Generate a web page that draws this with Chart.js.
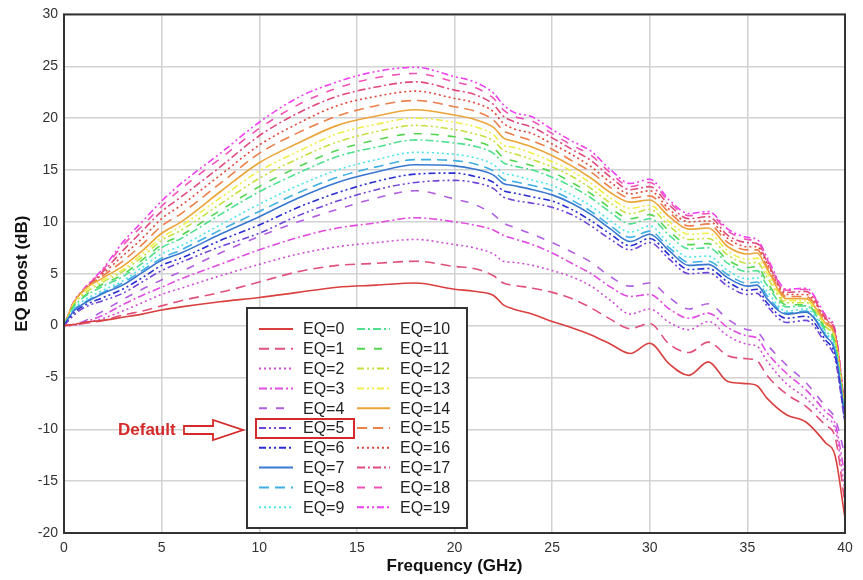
<!DOCTYPE html>
<html><head><meta charset="utf-8">
<script src="https://cdn.jsdelivr.net/npm/chart.js@4/dist/chart.umd.min.js"></script>
<style>html,body{margin:0;padding:0;background:#fff;}#wrap{width:863px;height:580px;}</style>
</head><body><div id="wrap"><canvas id="c" width="863" height="580"></canvas></div>
<script>
// Frequency (GHz) sample points
const freq = [0,0.5,1,2,3,4,5,6,8,10,12,14,16,18,20,21,22,22.5,23,24,25,26,27,28,29,30,31,32,33,34,35,35.5,36,37,38,39,39.5,40];
// EQ boost (dB) per setting
const eq0 = [0,0.1,0.3,0.5,0.8,1.1,1.5,1.8,2.3,2.7,3.2,3.7,3.9,4.1,3.5,3.3,2.9,2.0,1.6,1.1,0.4,-0.2,-0.9,-1.8,-2.7,-1.7,-3.7,-4.8,-3.5,-5.4,-5.6,-5.8,-7.0,-8.6,-9.3,-11.3,-12.6,-18.6];
const eq1 = [0,0.1,0.2,0.5,1.0,1.4,1.9,2.4,3.2,4.2,5.2,5.8,6.0,6.2,5.7,5.5,4.8,4.1,3.9,3.6,3.2,2.6,1.7,0.6,-0.3,0.2,-1.8,-2.6,-1.6,-2.9,-3.2,-3.4,-4.8,-6.6,-7.8,-9.6,-10.8,-17.2];
const eq2 = [0,0.05,0.2,0.7,1.4,2.2,3.0,3.6,4.8,5.9,6.9,7.6,8.0,8.3,7.8,7.5,6.9,6.2,6.1,5.8,5.3,4.7,3.8,2.4,1.1,1.6,0.3,-0.4,0.4,-1.0,-1.8,-2.0,-3.4,-5.6,-7.0,-8.9,-10.0,-16.0];
const eq3 = [0,0.05,0.3,1.0,2.0,2.9,3.7,4.5,5.9,7.3,8.5,9.4,9.9,10.4,10.0,9.7,9.2,8.7,8.4,7.8,7.0,6.0,5.0,3.7,2.8,3.0,1.6,0.7,1.2,-0.2,-1.0,-1.2,-2.6,-4.6,-6.2,-8.3,-9.5,-14.5];
const eq4 = [0,0.1,0.4,1.4,2.5,3.5,4.4,5.2,7.0,8.6,10.0,11.2,12.3,13.0,12.2,11.7,10.7,9.9,9.5,8.8,8.0,7.1,6.1,4.7,3.8,4.1,2.7,1.6,2.1,0.6,-0.4,-0.6,-1.8,-3.8,-5.5,-7.8,-9.0,-12.5];
const eq5 = [0,1.0,1.7,2.4,3.1,4.2,5.3,6.1,7.6,8.9,10.6,12.0,13.1,13.8,14.0,13.8,13.2,12.4,12.1,11.8,11.4,10.7,9.6,8.3,7.3,8.0,6.4,5.0,5.1,3.8,3.0,3.1,1.9,0.3,0.5,-1.7,-3.3,-9.5];
const eq6 = [0,1.2,1.9,2.7,3.5,4.6,5.8,6.5,8.2,9.7,11.4,12.8,13.9,14.6,14.7,14.4,13.8,13.0,12.8,12.4,12.0,11.2,10.1,8.8,7.7,8.4,6.8,5.4,5.5,4.2,3.4,3.5,2.2,0.7,0.9,-1.4,-3.0,-9.3];
const eq7 = [0,1.4,2.1,3.1,3.9,5.1,6.3,7.0,8.8,10.5,12.3,13.8,14.8,15.5,15.4,15.1,14.5,13.7,13.5,13.1,12.6,11.8,10.7,9.3,8.1,8.8,7.2,5.8,5.9,4.6,3.8,3.9,2.6,1.1,1.3,-1.0,-2.6,-9.0];
const eq8 = [0,1.5,2.2,3.2,4.1,5.3,6.5,7.3,9.2,11.0,12.8,14.3,15.3,16.0,15.9,15.6,14.9,14.1,13.9,13.5,13.0,12.1,11.0,9.6,8.5,9.1,7.5,6.1,6.2,4.9,4.1,4.2,2.9,1.2,1.4,-0.9,-2.5,-9.0];
const eq9 = [0,1.6,2.4,3.4,4.3,5.6,6.9,7.7,9.7,11.7,13.5,15.0,16.0,16.7,16.5,16.2,15.5,14.7,14.5,14.0,13.5,12.6,11.5,10.1,9.0,9.6,7.9,6.6,6.7,5.3,4.5,4.6,3.3,1.4,1.6,-0.7,-2.3,-8.9];
const eq10 = [0,1.8,2.7,3.8,4.7,6.0,7.5,8.4,10.7,12.9,14.7,16.3,17.2,17.9,17.6,17.3,16.6,15.7,15.4,15.0,14.3,13.4,12.3,10.9,9.8,10.3,8.7,7.4,7.5,6.0,5.2,5.3,3.9,1.8,1.9,-0.5,-2.0,-8.8];
const eq11 = [0,1.9,2.8,4.0,4.9,6.3,7.8,8.7,11.1,13.4,15.3,16.9,17.9,18.5,18.2,17.8,17.1,16.2,15.9,15.4,14.8,13.8,12.7,11.3,10.3,10.7,9.1,7.8,7.9,6.3,5.6,5.7,4.2,2.0,2.0,-0.3,-1.8,-8.7];
const eq12 = [0,2.0,3.0,4.2,5.2,6.6,8.2,9.2,11.7,14.2,16.1,17.7,18.7,19.3,18.9,18.5,17.8,16.9,16.6,16.0,15.3,14.4,13.2,11.8,10.8,11.2,9.6,8.3,8.4,6.8,6.0,6.1,4.7,2.2,2.2,-0.1,-1.6,-8.6];
const eq13 = [0,2.1,3.2,4.4,5.4,6.9,8.5,9.6,12.3,14.9,16.8,18.5,19.4,20.0,19.6,19.2,18.4,17.4,17.2,16.6,15.8,14.9,13.7,12.3,11.3,11.6,10.0,8.8,8.9,7.2,6.4,6.5,5.1,2.4,2.4,0.0,-1.4,-8.6];
const eq14 = [0,2.2,3.4,4.6,5.7,7.2,8.9,10.0,12.9,15.7,17.6,19.3,20.2,20.8,20.3,19.9,19.1,18.1,17.8,17.2,16.4,15.4,14.2,12.8,11.9,12.1,10.5,9.3,9.4,7.6,6.9,7.0,5.5,2.6,2.6,0.2,-1.2,-8.5];
const eq15 = [0,2.2,3.4,4.8,6.2,7.8,9.6,10.8,13.7,16.6,18.6,20.2,21.2,21.7,21.1,20.7,19.8,18.8,18.4,17.8,17.0,15.9,14.8,13.3,12.3,12.5,10.9,9.6,9.8,8.0,7.3,7.3,5.7,2.8,2.8,0.4,-1.1,-8.4];
const eq16 = [0,2.2,3.4,5.0,6.7,8.4,10.3,11.6,14.5,17.4,19.5,21.2,22.1,22.6,21.9,21.5,20.6,19.5,19.0,18.5,17.5,16.5,15.3,13.8,12.7,13.0,11.2,10.0,10.1,8.4,7.6,7.6,6.0,3.0,3.0,0.6,-0.9,-8.3];
const eq17 = [0,2.2,3.4,5.2,7.2,9.1,11.0,12.4,15.3,18.3,20.5,22.1,23.0,23.5,22.7,22.3,21.3,20.2,19.7,19.1,18.1,17.0,15.9,14.3,13.1,13.4,11.6,10.3,10.5,8.7,8.0,7.9,6.2,3.2,3.3,0.7,-0.7,-8.2];
const eq18 = [0,2.2,3.4,5.4,7.7,9.6,11.5,13.2,16.1,19.0,21.3,22.9,23.9,24.3,23.5,23.0,21.9,20.8,20.2,19.7,18.5,17.4,16.4,14.7,13.4,13.8,11.9,10.6,10.8,9.1,8.3,8.1,6.4,3.4,3.5,0.9,-0.6,-8.1];
const eq19 = [0,2.3,3.5,5.5,8.0,10.0,12.0,13.7,16.6,19.6,22.0,23.5,24.5,24.9,24.0,23.5,22.4,21.3,20.6,20.1,18.9,17.8,16.8,15.0,13.7,14.1,12.1,10.8,11.0,9.3,8.5,8.3,6.6,3.5,3.6,1.0,-0.5,-8.0];
const labels = ['EQ=0','EQ=1','EQ=2','EQ=3','EQ=4','EQ=5','EQ=6','EQ=7','EQ=8','EQ=9','EQ=10','EQ=11','EQ=12','EQ=13','EQ=14','EQ=15','EQ=16','EQ=17','EQ=18','EQ=19'];
const series = [eq0,eq1,eq2,eq3,eq4,eq5,eq6,eq7,eq8,eq9,eq10,eq11,eq12,eq13,eq14,eq15,eq16,eq17,eq18,eq19];
const colors = ['#d9403f','#e0507a','#cf4fd6','#e04ce0','#b25ee0','#6f45d8','#2a2ed0','#3a78d0','#3fb0e2','#4ee6e6','#4fe08f','#52d64f','#c4e03f','#f0ef4a','#eba538','#ec7f4a','#e0483a','#e04a7e','#f052b8','#f03ef0'];
const SOLID=[], DASH=[10,6], DOT=[2,3], DASHDOT=[8,3,2,3], LONGGAP=[8,9], DASHDOTDOT=[7,3,2,3,2,3];
const dashes = [SOLID,DASH,DOT,DASHDOT,LONGGAP,DASHDOTDOT,DASHDOTDOT,SOLID,DASH,DOT,DASHDOT,LONGGAP,DASHDOTDOT,DASHDOTDOT,SOLID,DASH,DOT,DASHDOT,LONGGAP,DASHDOTDOT];

const datasets = series.map((s,i)=>({
  label: labels[i],
  data: s.map((v,j)=>({x:freq[j], y:v})),
  borderColor: colors[i],
  borderDash: dashes[i],
  borderWidth: 1.6,
  pointRadius: 0,
  fill: false,
  cubicInterpolationMode: 'monotone'
}));

const decor = {
  id:'decor',
  afterDatasetsDraw(chart){
    const ctx = chart.ctx, a = chart.chartArea;
    ctx.save();
    ctx.strokeStyle = '#333'; ctx.lineWidth = 2;
    ctx.strokeRect(a.left, a.top, a.right-a.left, a.bottom-a.top);
    // legend box
    const bx=247, by=308, bw=220, bh=220;
    ctx.fillStyle='#fff'; ctx.fillRect(bx,by,bw,bh);
    ctx.strokeStyle='#333'; ctx.lineWidth=2; ctx.strokeRect(bx,by,bw,bh);
    ctx.font = '16px "Liberation Sans", Arial, sans-serif';
    ctx.textBaseline='middle'; ctx.textAlign='left';
    chart.data.datasets.forEach((d,i)=>{
      const col = i<10?0:1, row = i%10;
      const y = 329 + row*19.8;
      const x0 = col===0?259:357, x1 = col===0?293:390, tx = col===0?303:400;
      ctx.beginPath(); ctx.setLineDash(d.borderDash); ctx.strokeStyle=d.borderColor; ctx.lineWidth=2;
      ctx.moveTo(x0,y); ctx.lineTo(x1,y); ctx.stroke();
      ctx.setLineDash([]);
      ctx.fillStyle='#222'; ctx.fillText(d.label, tx, y+1);
    });
    // default highlight
    ctx.strokeStyle='#d42a2a'; ctx.lineWidth=2;
    ctx.strokeRect(256,419,98,19);
    ctx.fillStyle='#d42a2a'; ctx.font='bold 17px "Liberation Sans", Arial, sans-serif';
    ctx.fillText('Default',118,430);
    ctx.beginPath();
    ctx.moveTo(184,426); ctx.lineTo(213,426); ctx.lineTo(213,420); ctx.lineTo(243,430);
    ctx.lineTo(213,440); ctx.lineTo(213,434); ctx.lineTo(184,434); ctx.closePath();
    ctx.fillStyle='#fff'; ctx.fill(); ctx.lineWidth=1.8; ctx.stroke();
    ctx.restore();
  }
};

new Chart(document.getElementById('c'), {
  type:'line',
  data:{datasets},
  options:{
    responsive:false, animation:false,
    layout:{padding:{left:0,top:11,right:18,bottom:0}},
    plugins:{legend:{display:false}, tooltip:{enabled:false}},
    scales:{
      x:{type:'linear', min:0, max:40,
        ticks:{stepSize:5, color:'#333', padding:7, font:{family:'"Liberation Sans", Arial, sans-serif', size:14}},
        grid:{color:'#d2d2d2', lineWidth:1.5, drawTicks:false},
        border:{display:false},
        title:{display:true, text:'Frequency (GHz)', color:'#111', padding:{top:0,bottom:3}, font:{family:'"Liberation Sans", Arial, sans-serif', size:17, weight:'bold'}},
        afterFit:(s)=>{s.height=47;}
      },
      y:{min:-20, max:30,
        ticks:{stepSize:5, color:'#333', padding:6, font:{family:'"Liberation Sans", Arial, sans-serif', size:14}},
        grid:{color:'#d2d2d2', lineWidth:1.5, drawTicks:false},
        border:{display:false},
        title:{display:true, text:'EQ Boost (dB)', color:'#111', padding:{top:12,bottom:0}, font:{family:'"Liberation Sans", Arial, sans-serif', size:17, weight:'bold'}},
        afterFit:(s)=>{s.width=64;}
      }
    }
  },
  plugins:[decor]
});
</script></body></html>
